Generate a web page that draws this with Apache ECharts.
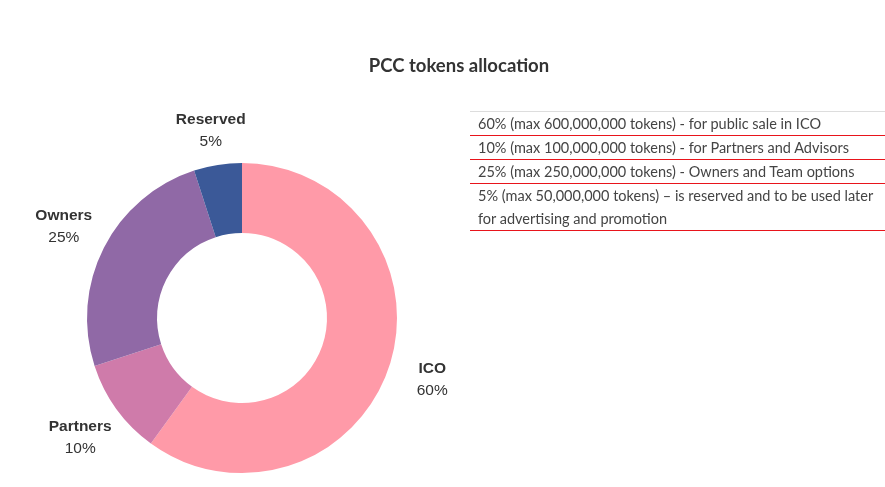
<!DOCTYPE html>
<html>
<head>
<meta charset="utf-8">
<script src="https://cdn.jsdelivr.net/npm/echarts@6/dist/echarts.min.js"></script>
<style>
  html, body { margin: 0; padding: 0; background: #fff; }
  #chart { position: absolute; left: 0; top: 0; width: 885px; height: 487px; }
  #notes { position: absolute; left: 470px; top: 111px; width: 415px; font-family: Lato, "Open Sans", sans-serif; font-size: 14.5px; color: #444; border-top: 1px solid #ddd; }
  #notes div { padding: 0 0 0 8px; line-height: 23px; border-bottom: 1px solid #e8141b; }
</style>
</head>
<body>
<div id="chart"></div>
<div id="notes"></div>
<script>
const categories = ['ICO', 'Partners', 'Owners', 'Reserved'];
const shares = [60, 10, 25, 5];
const colors = ['#ff9aa8', '#cf7baa', '#9069a6', '#3b5998'];
const notes = [
  '60% (max 600,000,000 tokens) - for public sale in ICO',
  '10% (max 100,000,000 tokens) - for Partners and Advisors',
  '25% (max 250,000,000 tokens) - Owners and Team options',
  '5% (max 50,000,000 tokens) – is reserved and to be used later for advertising and promotion'
];

const box = document.getElementById('notes');
notes.forEach(t => { const d = document.createElement('div'); d.textContent = t; box.appendChild(d); });

const chart = echarts.init(document.getElementById('chart'));
chart.setOption({
  animation: false,
  title: {
    text: 'PCC tokens allocation',
    left: 454, top: 52, textAlign: 'center',
    textStyle: { fontFamily: 'Lato, "Open Sans", sans-serif', fontSize: 18.5, fontWeight: 'bold', color: '#333' }
  },
  color: colors,
  series: [{
    type: 'pie',
    center: [242, 318],
    radius: [85, 155],
    startAngle: 90,
    clockwise: true,
    data: categories.map((c, i) => ({ name: c, value: shares[i] })),
    label: {
      show: true,
      position: 'outside',
      distanceToLabelLine: 0,
      overflow: 'none',
      formatter: '{n|{b}}\n{p|{c}%}',
      rich: {
        n: { fontFamily: '"Liberation Sans", Arial, sans-serif', fontSize: 15.5, fontWeight: 'bold', color: '#333', lineHeight: 22, align: 'center' },
        p: { fontFamily: '"Liberation Sans", Arial, sans-serif', fontSize: 15.5, color: '#333', lineHeight: 22, align: 'center' }
      }
    },
    labelLine: { show: false, length: 45, length2: 0 },
    labelLayout: function (p) { return { align: 'center', dy: p.dataIndex === 3 ? 10 : (p.dataIndex === 1 ? 2 : 0) }; },
    emphasis: { disabled: true }
  }]
});
</script>
</body>
</html>
